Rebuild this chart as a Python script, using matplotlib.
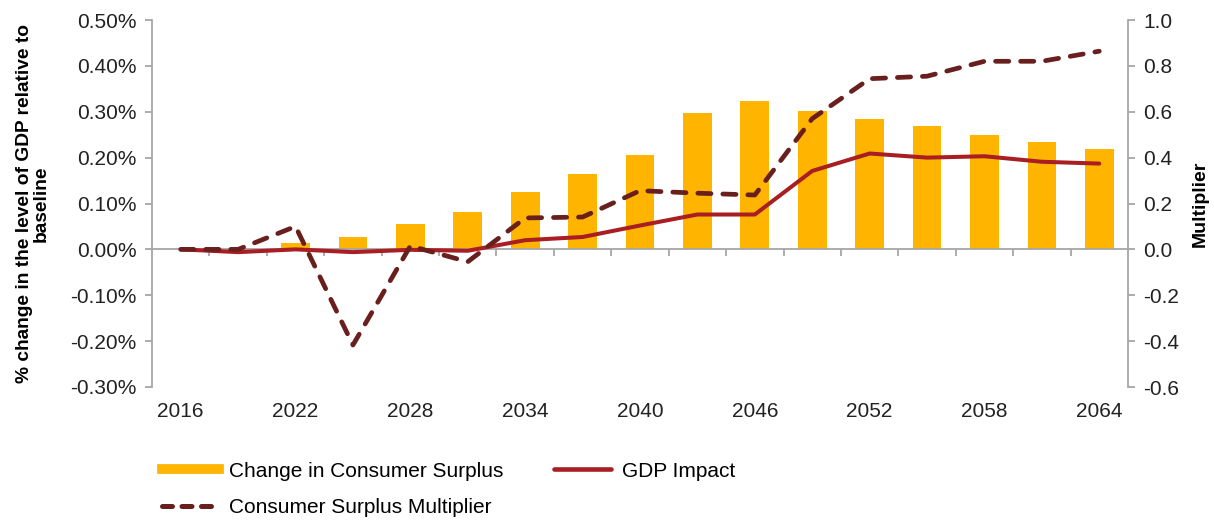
import matplotlib
matplotlib.use("Agg")
import matplotlib.pyplot as plt
import matplotlib.ticker as mticker
from matplotlib.lines import Line2D
from matplotlib.transforms import blended_transform_factory
import numpy as np

plt.rcParams['font.family'] = ['Liberation Sans', 'DejaVu Sans']

years = [2016, 2019, 2022, 2025, 2028, 2031, 2034, 2037, 2040, 2043, 2046,
         2049, 2052, 2055, 2058, 2061, 2064]
year_labels = ["2016", "2022", "2028", "2034", "2040", "2046", "2052", "2058", "2064"]
consumer_surplus = [0.0, 0.0, 0.013, 0.026, 0.056, 0.082, 0.125, 0.165, 0.205,
                    0.298, 0.324, 0.302, 0.285, 0.268, 0.250, 0.233, 0.219]
gdp_impact = [0.0, -0.006, 0.0, -0.006, -0.001, -0.003, 0.020, 0.027, 0.052,
              0.076, 0.076, 0.171, 0.209, 0.200, 0.203, 0.191, 0.187]
multiplier = [0.0, 0.0, 0.10, -0.417, 0.015, -0.054, 0.137, 0.141, 0.256,
              0.245, 0.237, 0.57, 0.744, 0.755, 0.82, 0.82, 0.864]

BAR = "#FFB400"
RED = "#A81E22"
BROWN = "#6A1F1F"
GREY = "#A6A6A6"
TXT = "#222222"
FS = 15

fig = plt.figure(figsize=(12.14, 5.22), dpi=100)
ax = fig.add_axes([152/1214, 1-387/522, (1128-152)/1214, (387-20)/522])
ax2 = ax.twinx()

x = np.arange(len(years))
ax.bar(x, consumer_surplus, width=0.5, color=BAR, zorder=2)
ax.plot(x, gdp_impact, color=RED, lw=2.9, zorder=3, solid_capstyle='round')
ax2.plot(x, multiplier, color=BROWN, lw=3.4, dashes=(2.8, 2.5), zorder=3,
         dash_capstyle='round')

ax.set_xlim(-0.5, len(years)-0.5)
ax.set_ylim(-0.30, 0.50)
ax2.set_ylim(-0.6, 1.0)
ax.yaxis.set_major_locator(mticker.MultipleLocator(0.10))
ax.yaxis.set_major_formatter(mticker.FuncFormatter(
    lambda v, p: "0.00%" if abs(v) < 1e-9 else f"{v:.2f}%"))
ax2.yaxis.set_major_locator(mticker.MultipleLocator(0.2))
ax2.yaxis.set_major_formatter(mticker.FuncFormatter(
    lambda v, p: "0.0" if abs(v) < 1e-9 else f"{v:.1f}"))

for a in (ax, ax2):
    a.spines['top'].set_visible(False)
    for s in a.spines.values():
        s.set_color(GREY)
        s.set_linewidth(1.3)
ax.spines['right'].set_visible(False)
ax2.spines['left'].set_visible(False)
ax2.spines['bottom'].set_visible(False)
ax.spines['bottom'].set_position(('data', 0))

ax.set_xticks(np.arange(0.5, len(years)-1, 1.0))
ax.set_xticklabels([])
ax.tick_params(axis='x', length=5, color=GREY, width=1.3, direction='out')
ax.tick_params(axis='y', length=5, color=GREY, width=1.3, labelsize=FS,
               labelcolor=TXT, pad=6)
ax2.tick_params(axis='y', length=5, color=GREY, width=1.3, labelsize=FS,
                labelcolor=TXT, pad=6)

trans = blended_transform_factory(ax.transData, ax.transAxes)
for i, y in enumerate(years):
    if str(y) in year_labels:
        ax.text(i, -0.04, str(y), transform=trans, ha='center', va='top',
                fontsize=FS, color=TXT)

ax.set_ylabel("% change in the level of GDP relative to\nbaseline",
              fontsize=13.8, fontweight='bold', labelpad=15, linespacing=1.0)
ax2.set_ylabel("Multiplier", fontsize=14, fontweight='bold', labelpad=9)

handles = [Line2D([0], [0], color=BAR, lw=7),
           Line2D([0], [0], color=BROWN, lw=3.6, dashes=(2.0, 1.9),
                  dash_capstyle='round'),
           Line2D([0], [0], color=RED, lw=3.3, solid_capstyle='round')]
labels = ["Change in Consumer Surplus", "Consumer Surplus Multiplier", "GDP Impact"]
fig.legend(handles, labels, ncol=2, loc='upper left',
           bbox_to_anchor=(143/1214, 1-443/522), frameon=False,
           fontsize=FS, handlelength=2.75, handletextpad=0.5,
           columnspacing=2.4, labelspacing=0.85)

fig.savefig("out.png", dpi=100)
